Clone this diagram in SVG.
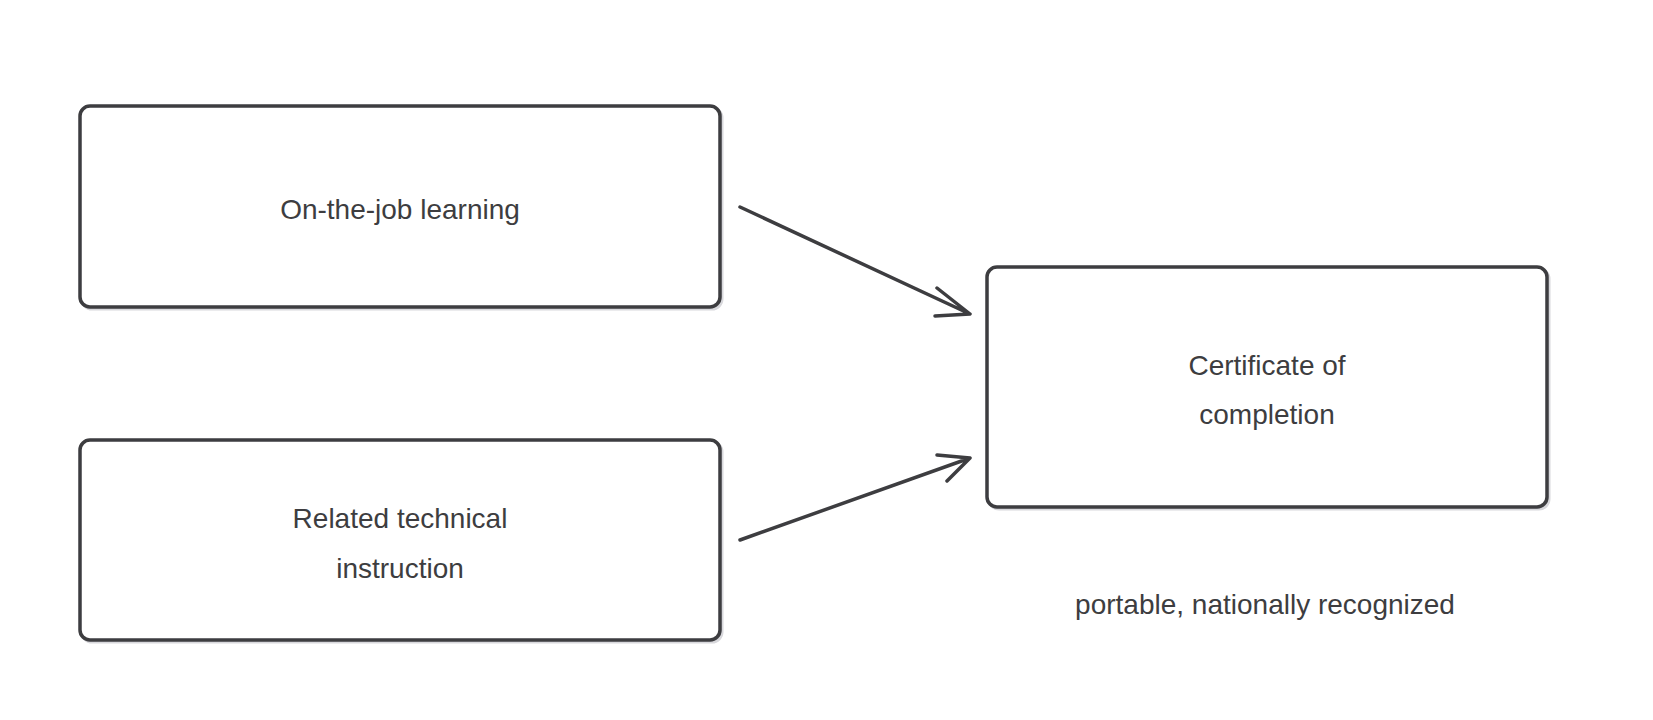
<svg xmlns="http://www.w3.org/2000/svg" width="1653" height="720" viewBox="0 0 1653 720">
<style>
.n{fill:#fff;stroke:#3d3d40;stroke-width:3.5}
.s{fill:none;stroke:#d8d8dc;stroke-width:3}
.t{font-family:"Liberation Sans",sans-serif;font-size:28px;fill:#3d3d40;text-anchor:middle}
.c{stroke:#3d3d40;stroke-width:3.5;fill:none;stroke-linecap:round;stroke-linejoin:round}
</style>
<rect width="1653" height="720" fill="#fff"/>
<g id="n1"><rect class="s" x="82" y="108" width="640" height="201" rx="10"/><rect class="n" x="80" y="106" width="640" height="201" rx="10"/><text class="t" x="400" y="219">On-the-job learning</text></g>
<g id="n2"><rect class="s" x="82" y="442" width="640" height="200" rx="10"/><rect class="n" x="80" y="440" width="640" height="200" rx="10"/><text class="t" x="400" y="528">Related technical</text><text class="t" x="400" y="578">instruction</text></g>
<g id="n3"><rect class="s" x="989" y="269" width="560" height="240" rx="10"/><rect class="n" x="987" y="267" width="560" height="240" rx="10"/><text class="t" x="1267" y="375">Certificate of</text><text class="t" x="1267" y="424">completion</text></g>
<text class="t" x="1265" y="614">portable, nationally recognized</text>
<g id="connectors">
<path class="c" d="M740 207 L970 314 M937 288 L970 314 L935 316"/>
<path class="c" d="M740 540 L970 458 M947 481 L970 458 L937 455"/>
</g>
</svg>
